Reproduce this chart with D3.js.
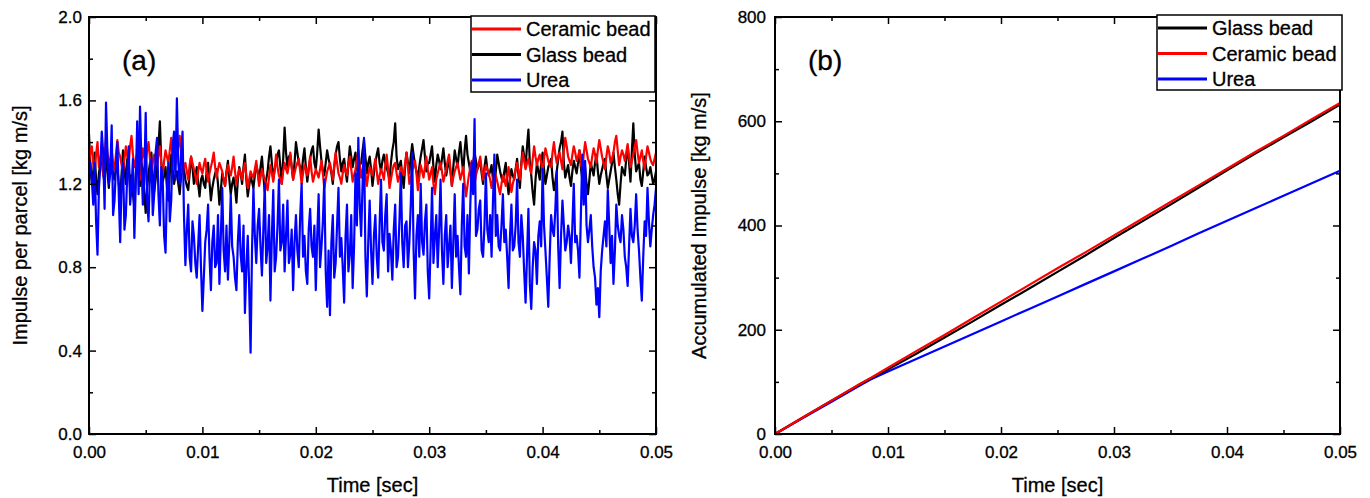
<!DOCTYPE html>
<html>
<head>
<meta charset="utf-8">
<script src="https://cdn.jsdelivr.net/npm/d3@7"></script>
<style>
  body { margin: 0; background: #fff; }
  svg { display: block; font-family: "Liberation Sans", Arial, sans-serif; }
  text { stroke: #000; stroke-width: 0.3px; }
</style>
</head>
<body>
<svg id="chart" width="1370" height="498"></svg>
<script>
// panel (a): impulse per parcel, sampled every 0.00025 s,
// plus a second set read halfway between those samples
const stepA = 0.00025
const ceramicA = [
  1.30, 1.38, 1.26, 1.40, 1.32, 1.24, 1.42, 1.30, 1.36, 1.27,
  1.41, 1.33, 1.25, 1.38, 1.30, 1.43, 1.28, 1.35, 1.22, 1.37,
  1.31, 1.40, 1.26, 1.34, 1.29, 1.38, 1.24, 1.36, 1.30, 1.42,
  1.27, 1.34, 1.43, 1.25, 1.30, 1.22, 1.33, 1.27, 1.20, 1.30,
  1.25, 1.32, 1.21, 1.28, 1.35, 1.23, 1.30, 1.26, 1.19, 1.29,
  1.24, 1.33, 1.20, 1.27, 1.22, 1.30, 1.18, 1.26, 1.23, 1.31,
  1.19, 1.27, 1.22, 1.17, 1.29, 1.21, 1.34, 1.24, 1.20, 1.30,
  1.25, 1.35, 1.22, 1.28, 1.32, 1.20, 1.29, 1.24, 1.33, 1.21,
  1.27, 1.23, 1.31, 1.18, 1.26, 1.30, 1.22, 1.35, 1.25, 1.20,
  1.29, 1.24, 1.33, 1.21, 1.27, 1.36, 1.23, 1.30, 1.19, 1.28,
  1.24, 1.32, 1.20, 1.27, 1.22, 1.34, 1.18, 1.26, 1.30, 1.21,
  1.28, 1.24, 1.35, 1.20, 1.26, 1.31, 1.17, 1.29, 1.23, 1.33,
  1.22, 1.28, 1.15, 1.25, 1.30, 1.21, 1.27, 1.34, 1.19, 1.26,
  1.30, 1.22, 1.28, 1.14, 1.24, 1.31, 1.20, 1.27, 1.33, 1.22,
  1.29, 1.25, 1.18, 1.26, 1.21, 1.15, 1.24, 1.19, 1.28, 1.16,
  1.23, 1.30, 1.22, 1.35, 1.27, 1.32, 1.25, 1.38, 1.29, 1.34,
  1.26, 1.37, 1.31, 1.28, 1.40, 1.30, 1.35, 1.27, 1.42, 1.33,
  1.29, 1.38, 1.31, 1.36, 1.26, 1.40, 1.32, 1.28, 1.37, 1.30,
  1.41, 1.33, 1.27, 1.38, 1.30, 1.35, 1.43, 1.29, 1.36, 1.31,
  1.39, 1.28, 1.34, 1.41, 1.30, 1.36, 1.27, 1.38, 1.32, 1.29, 1.35
]
const ceramicMid = [
  1.35, 1.30, 1.34, 1.28, 1.36, 1.33, 1.35, 1.31, 1.30, 1.34,
  1.35, 1.29, 1.32, 1.33, 1.38, 1.34, 1.31, 1.28, 1.30, 1.33,
  1.36, 1.32, 1.30, 1.31, 1.34, 1.30, 1.31, 1.33, 1.36, 1.34,
  1.30, 1.38, 1.35, 1.28, 1.26, 1.29, 1.30, 1.24, 1.26, 1.27,
  1.29, 1.26, 1.25, 1.31, 1.28, 1.27, 1.28, 1.22, 1.25, 1.26,
  1.28, 1.26, 1.24, 1.25, 1.27, 1.24, 1.22, 1.24, 1.27, 1.25,
  1.23, 1.24, 1.20, 1.23, 1.25, 1.27, 1.28, 1.22, 1.26, 1.27,
  1.29, 1.28, 1.25, 1.30, 1.26, 1.25, 1.27, 1.28, 1.26, 1.24,
  1.25, 1.27, 1.25, 1.22, 1.28, 1.26, 1.29, 1.30, 1.23, 1.25,
  1.26, 1.29, 1.27, 1.24, 1.31, 1.29, 1.27, 1.25, 1.24, 1.26,
  1.28, 1.26, 1.24, 1.25, 1.29, 1.27, 1.22, 1.29, 1.25, 1.24,
  1.26, 1.30, 1.28, 1.23, 1.29, 1.25, 1.23, 1.26, 1.28, 1.27,
  1.25, 1.20, 1.22, 1.28, 1.26, 1.24, 1.31, 1.27, 1.23, 1.28,
  1.26, 1.25, 1.20, 1.19, 1.28, 1.25, 1.24, 1.30, 1.27, 1.26,
  1.27, 1.22, 1.22, 1.24, 1.18, 1.20, 1.22, 1.24, 1.21, 1.20,
  1.27, 1.26, 1.29, 1.31, 1.30, 1.28, 1.32, 1.33, 1.32, 1.30,
  1.32, 1.34, 1.29, 1.35, 1.34, 1.33, 1.31, 1.36, 1.38, 1.31,
  1.34, 1.35, 1.33, 1.30, 1.34, 1.36, 1.30, 1.33, 1.34, 1.36,
  1.37, 1.30, 1.33, 1.35, 1.32, 1.40, 1.36, 1.33, 1.34, 1.35,
  1.33, 1.31, 1.38, 1.35, 1.33, 1.31, 1.33, 1.35, 1.30, 1.32
]
const glassA = [
  1.44, 1.20, 1.35, 1.15, 1.30, 1.25, 1.38, 1.18, 1.32, 1.22,
  1.28, 1.13, 1.36, 1.20, 1.30, 1.24, 1.09, 1.33, 1.19, 1.27,
  1.06, 1.25, 1.35, 1.16, 1.30, 1.50, 1.21, 1.28, 1.12, 1.34,
  1.20, 1.26, 1.15, 1.30, 1.22, 1.17, 1.33, 1.20, 1.28, 1.14,
  1.24, 1.18, 1.30, 1.12, 1.22, 1.27, 1.10, 1.25, 1.19, 1.31,
  1.15, 1.23, 1.11, 1.28, 1.20, 1.34, 1.14, 1.24, 1.18, 1.29,
  1.21, 1.33, 1.16, 1.26, 1.38, 1.22, 1.30, 1.36, 1.20, 1.47,
  1.28, 1.34, 1.22, 1.40, 1.30, 1.25, 1.37, 1.21, 1.32, 1.38,
  1.27, 1.46, 1.31, 1.24, 1.36, 1.29, 1.20, 1.34, 1.40, 1.26,
  1.32, 1.21, 1.38, 1.28, 1.35, 1.23, 1.30, 1.41, 1.25, 1.33,
  1.19, 1.30, 1.37, 1.26, 1.34, 1.28, 1.22, 1.36, 1.49, 1.27,
  1.31, 1.18, 1.35, 1.25, 1.39, 1.29, 1.22, 1.33, 1.41, 1.26,
  1.30, 1.38, 1.21, 1.34, 1.27, 1.37, 1.24, 1.32, 1.19, 1.36,
  1.28, 1.40, 1.25, 1.43, 1.30, 1.22, 1.35, 1.27, 1.31, 1.20,
  1.33, 1.24, 1.29, 1.18, 1.34, 1.26, 1.21, 1.30, 1.15, 1.27,
  1.22, 1.32, 1.18, 1.38, 1.28, 1.46, 1.24, 1.10, 1.30, 1.22,
  1.35, 1.20, 1.28, 1.32, 1.17, 1.26, 1.37, 1.45, 1.23, 1.29,
  1.19, 1.31, 1.25, 1.36, 1.22, 1.28, 1.15, 1.30, 1.24, 1.34,
  1.20, 1.27, 1.32, 1.18, 1.26, 1.35, 1.22, 1.10, 1.28, 1.24,
  1.38, 1.21, 1.49, 1.26, 1.30, 1.19, 1.33, 1.24, 1.28, 1.20, 1.26
]
const glassMid = [
  1.28, 1.26, 1.22, 1.25, 1.32, 1.20, 1.26, 1.30, 1.24, 1.28,
  1.20, 1.25, 1.27, 1.32, 1.18, 1.15, 1.24, 1.25, 1.30, 1.16,
  1.18, 1.30, 1.24, 1.22, 1.38, 1.30, 1.24, 1.18, 1.25, 1.27,
  1.24, 1.20, 1.24, 1.27, 1.19, 1.25, 1.28, 1.23, 1.20, 1.22,
  1.20, 1.26, 1.21, 1.18, 1.25, 1.20, 1.17, 1.22, 1.26, 1.22,
  1.20, 1.18, 1.22, 1.25, 1.28, 1.22, 1.19, 1.21, 1.24, 1.26,
  1.28, 1.24, 1.22, 1.33, 1.30, 1.27, 1.34, 1.28, 1.32, 1.35,
  1.33, 1.28, 1.30, 1.35, 1.28, 1.32, 1.28, 1.27, 1.36, 1.30,
  1.35, 1.38, 1.26, 1.30, 1.32, 1.25, 1.28, 1.38, 1.32, 1.30,
  1.26, 1.30, 1.33, 1.32, 1.28, 1.29, 1.36, 1.33, 1.30, 1.27,
  1.25, 1.34, 1.30, 1.31, 1.30, 1.25, 1.30, 1.40, 1.33, 1.29,
  1.24, 1.28, 1.30, 1.33, 1.34, 1.26, 1.28, 1.37, 1.33, 1.30,
  1.34, 1.28, 1.29, 1.31, 1.32, 1.30, 1.28, 1.26, 1.28, 1.32,
  1.35, 1.32, 1.36, 1.34, 1.26, 1.30, 1.31, 1.29, 1.25, 1.28,
  1.27, 1.26, 1.22, 1.26, 1.30, 1.23, 1.26, 1.21, 1.22, 1.24,
  1.27, 1.24, 1.30, 1.33, 1.38, 1.30, 1.16, 1.22, 1.26, 1.30,
  1.27, 1.24, 1.30, 1.23, 1.21, 1.32, 1.40, 1.30, 1.26, 1.23,
  1.26, 1.28, 1.30, 1.28, 1.24, 1.20, 1.22, 1.27, 1.30, 1.26,
  1.24, 1.30, 1.24, 1.22, 1.30, 1.28, 1.15, 1.20, 1.26, 1.32,
  1.30, 1.36, 1.34, 1.28, 1.22, 1.26, 1.28, 1.25, 1.24, 1.22
]
const ureaA = [
  1.25, 1.22, 1.30, 0.86, 1.28, 1.35, 1.59, 1.20, 1.48, 1.12,
  1.40, 0.92, 1.30, 1.05, 1.38, 1.18, 0.94, 1.50, 1.57, 1.10,
  1.54, 1.02, 1.32, 1.15, 1.42, 1.00, 1.22, 0.87, 1.30, 1.12,
  1.45, 1.61, 1.20, 1.45, 0.81, 1.10, 0.78, 0.95, 0.75, 1.05,
  0.59, 0.92, 1.10, 0.69, 1.00, 0.82, 0.72, 1.18, 0.78, 0.74,
  1.15, 0.85, 0.69, 1.05, 0.78, 0.58, 0.95, 0.39, 1.18, 0.82,
  1.08, 0.76, 1.20, 0.90, 0.64, 1.17, 0.85, 1.22, 0.92, 0.78,
  1.12, 0.86, 0.69, 1.05, 0.80, 1.20, 0.95, 0.72, 1.08, 0.85,
  0.69, 1.15, 0.90, 1.22, 0.61, 0.57, 1.05, 0.82, 1.18, 0.94,
  0.63, 1.10, 0.86, 0.70, 1.25, 1.42, 0.95, 1.42, 0.66, 1.12,
  0.72, 1.05, 0.75, 1.22, 0.88, 1.15, 0.96, 0.74, 1.10, 0.85,
  1.25, 0.80, 1.02, 0.92, 1.35, 0.65, 1.05, 1.20, 0.86, 1.10,
  0.65, 1.18, 0.95, 0.80, 1.22, 0.72, 1.05, 0.90, 0.70, 1.15,
  0.95, 0.67, 1.20, 0.85, 0.77, 1.30, 1.51, 0.98, 1.12, 0.85,
  1.25, 0.92, 0.85, 1.34, 1.05, 0.88, 1.15, 0.98, 0.70, 1.10,
  0.90, 1.22, 0.85, 0.95, 0.63, 1.08, 0.60, 0.92, 0.72, 1.02,
  1.27, 0.88, 0.61, 1.05, 0.95, 1.26, 0.70, 1.12, 0.88, 1.00,
  0.82, 1.20, 0.95, 0.75, 1.34, 1.31, 0.92, 1.05, 0.80, 0.62,
  0.56, 0.88, 1.02, 1.17, 0.82, 0.72, 1.10, 0.95, 1.05, 0.85,
  0.71, 1.08, 0.92, 1.15, 0.88, 0.64, 1.02, 1.18, 0.90, 1.05, 1.18
]
const ureaMid = [
  1.30, 1.10, 1.02, 1.18, 1.45, 1.08, 1.35, 1.25, 1.05, 1.28,
  1.15, 1.22, 0.98, 1.25, 1.10, 1.32, 1.20, 1.15, 1.30, 1.22,
  1.12, 1.25, 1.05, 1.35, 1.15, 1.28, 0.95, 1.18, 1.02, 1.38,
  1.22, 1.30, 1.35, 1.05, 0.98, 0.85, 1.02, 0.82, 0.90, 0.80,
  0.75, 0.98, 0.85, 0.92, 0.80, 1.05, 0.95, 0.88, 1.00, 0.92,
  0.90, 0.75, 0.92, 0.86, 1.00, 0.80, 0.70, 0.88, 0.95, 1.00,
  0.90, 0.98, 0.82, 1.05, 0.95, 0.78, 1.00, 0.88, 1.10, 0.95,
  0.82, 0.98, 0.92, 0.88, 1.05, 0.85, 0.78, 0.98, 0.90, 1.00,
  0.95, 0.80, 1.02, 0.78, 0.88, 0.92, 0.75, 1.00, 0.85, 0.80,
  0.95, 0.78, 1.05, 0.90, 1.00, 1.10, 1.20, 0.85, 0.92, 0.88,
  0.95, 0.85, 1.00, 0.92, 1.05, 0.78, 0.88, 0.98, 0.80, 1.02,
  0.92, 1.00, 0.80, 1.10, 0.88, 0.95, 0.85, 0.92, 1.02, 0.78,
  0.90, 0.82, 1.05, 0.98, 0.88, 0.95, 0.80, 1.00, 0.92, 0.85,
  0.80, 1.00, 0.90, 1.05, 1.10, 1.15, 0.95, 1.08, 0.88, 1.00,
  0.98, 1.05, 1.12, 0.95, 0.90, 1.00, 0.92, 0.85, 0.95, 0.88,
  1.00, 0.92, 1.05, 0.78, 0.85, 0.72, 0.80, 0.88, 0.95, 0.90,
  1.00, 0.75, 0.85, 0.98, 1.08, 0.90, 0.95, 1.00, 0.92, 0.95,
  1.00, 0.92, 0.88, 1.05, 1.10, 1.00, 0.98, 0.90, 0.75, 0.70,
  0.78, 0.95, 0.90, 1.00, 0.95, 0.88, 1.00, 0.92, 0.98, 0.80,
  0.90, 0.95, 1.00, 0.98, 0.75, 0.85, 0.95, 1.02, 0.98, 1.10
]

// panel (b): accumulated impulse
const timeB = [0, 0.0025, 0.005, 0.0075, 0.0085, 0.01, 0.0125, 0.015, 0.0175, 0.02, 0.0225,
  0.025, 0.0275, 0.03, 0.0325, 0.035, 0.0375, 0.04, 0.0425, 0.045, 0.0475, 0.05]
const glassB = [0, 32, 64, 95, 107, 124, 154, 185, 216, 248, 279, 311, 343, 376, 408, 440, 473, 506, 538, 569, 600, 632]
const ceramicB = [0, 32, 64, 96, 108, 127, 159, 190, 222, 254, 286, 318, 349, 381, 413, 445, 477, 509, 541, 572, 604, 635]
const ureaB = [0, 31, 62, 93, 105, 120, 144, 168, 192, 216, 240, 264, 288, 312, 336, 360, 385, 409, 433, 457, 481, 505]

const xTicks = [0, 0.01, 0.02, 0.03, 0.04, 0.05]
const xMinor = [0.005, 0.015, 0.025, 0.035, 0.045]
const yTicksA = [0, 0.4, 0.8, 1.2, 1.6, 2.0]
const yMinorA = [0.2, 0.6, 1.0, 1.4, 1.8]
const yTicksB = [0, 200, 400, 600, 800]
const yMinorB = [100, 300, 500, 700]

const legendA = [["Ceramic bead", "#ff0000"], ["Glass bead", "#000000"], ["Urea", "#0000ff"]]
const legendB = [["Glass bead", "#000000"], ["Ceramic bead", "#ff0000"], ["Urea", "#0000ff"]]

const svg = d3.select("#chart")

function panel(opt) {
  const g = svg.append("g")
  const x = d3.scaleLinear().domain([0, 0.05]).range([opt.left, opt.right])
  const y = d3.scaleLinear().domain(opt.yDomain).range([opt.bottom, opt.top])

  // data lines
  const line = d3.line().x(d => x(d[0])).y(d => y(d[1]))
  opt.series.forEach(s => {
    g.append("path")
      .datum(s.pts)
      .attr("fill", "none")
      .attr("stroke", s.color)
      .attr("stroke-width", opt.lw)
      .attr("stroke-linejoin", "round")
      .attr("d", line)
  })

  const style = a => {
    a.select(".domain").remove()
    a.selectAll("line").attr("stroke", "#000").attr("stroke-width", 1.5)
    a.selectAll("text").attr("font-size", 17).attr("fill", "#000")
  }

  g.append("g").attr("transform", `translate(0,${opt.bottom})`)
    .call(d3.axisBottom(x).tickValues(xTicks).tickSize(-7).tickPadding(12).tickFormat(d3.format(".2f")))
    .call(style)
  g.append("g").attr("transform", `translate(0,${opt.bottom})`)
    .call(d3.axisBottom(x).tickValues(xMinor).tickSize(-4).tickFormat(""))
    .call(style)
  g.append("g").attr("transform", `translate(0,${opt.top})`)
    .call(d3.axisTop(x).tickValues(xTicks).tickSize(-7).tickFormat(""))
    .call(style)
  g.append("g").attr("transform", `translate(0,${opt.top})`)
    .call(d3.axisTop(x).tickValues(xMinor).tickSize(-4).tickFormat(""))
    .call(style)

  g.append("g").attr("transform", `translate(${opt.left},0)`)
    .call(d3.axisLeft(y).tickValues(opt.yTicks).tickSize(-7).tickPadding(opt.yPad).tickFormat(opt.yFmt))
    .call(style)
  g.append("g").attr("transform", `translate(${opt.left},0)`)
    .call(d3.axisLeft(y).tickValues(opt.yMinor).tickSize(-4).tickFormat(""))
    .call(style)
  g.append("g").attr("transform", `translate(${opt.right},0)`)
    .call(d3.axisRight(y).tickValues(opt.yTicks).tickSize(-7).tickFormat(""))
    .call(style)
  g.append("g").attr("transform", `translate(${opt.right},0)`)
    .call(d3.axisRight(y).tickValues(opt.yMinor).tickSize(-4).tickFormat(""))
    .call(style)

  // frame
  g.append("rect")
    .attr("x", opt.left).attr("y", opt.top)
    .attr("width", opt.right - opt.left).attr("height", opt.bottom - opt.top)
    .attr("fill", "none").attr("stroke", "#000").attr("stroke-width", 2)

  // legend
  const lg = opt.legend
  g.append("rect")
    .attr("x", lg.x).attr("y", lg.y).attr("width", lg.w).attr("height", lg.h)
    .attr("fill", "#fff").attr("stroke", "#000").attr("stroke-width", 1.5)
  lg.items.forEach((it, i) => {
    const cy = lg.y + 13 + i * 25.5
    g.append("line")
      .attr("x1", lg.x + 1).attr("x2", lg.x + 50).attr("y1", cy).attr("y2", cy)
      .attr("stroke", it[1]).attr("stroke-width", 3)
    g.append("text")
      .attr("x", lg.x + 55).attr("y", cy + 7)
      .attr("font-size", 20).text(it[0])
  })

  g.append("text")
    .attr("x", opt.left + 33).attr("y", opt.top + 53)
    .attr("font-size", 28).text(opt.tag)

  g.append("text")
    .attr("x", (opt.left + opt.right) / 2).attr("y", 492)
    .attr("text-anchor", "middle").attr("font-size", 20)
    .text("Time [sec]")

  g.append("text")
    .attr("transform", `translate(${opt.ytX},${(opt.top + opt.bottom) / 2}) rotate(-90)`)
    .attr("text-anchor", "middle").attr("font-size", 20)
    .text(opt.yTitle)
}

// merge the on-step and half-step readings into one time-ordered series
const ptsA = (arr, mid) => {
  const pts = []
  arr.forEach((v, i) => {
    pts.push([i * stepA, v])
    if (i < mid.length) pts.push([(i + 0.5) * stepA, mid[i]])
  })
  return pts
}
const ptsB = arr => arr.map((v, i) => [timeB[i], v])

panel({
  left: 89, right: 656, top: 17, bottom: 434,
  yDomain: [0, 2], yTicks: yTicksA, yMinor: yMinorA, yPad: 7, yFmt: d3.format(".1f"),
  lw: 2.2,
  series: [
    { pts: ptsA(glassA, glassMid), color: "#000000" },
    { pts: ptsA(ceramicA, ceramicMid), color: "#ff0000" },
    { pts: ptsA(ureaA, ureaMid), color: "#0000ff" }
  ],
  legend: { x: 471, y: 16, w: 184, h: 76, items: legendA },
  tag: "(a)", ytX: 27, yTitle: "Impulse per parcel [kg m/s]"
})

panel({
  left: 775, right: 1340, top: 17, bottom: 434,
  yDomain: [0, 800], yTicks: yTicksB, yMinor: yMinorB, yPad: 9, yFmt: d3.format("d"),
  lw: 2.2,
  series: [
    { pts: ptsB(ureaB), color: "#0000ff" },
    { pts: ptsB(glassB), color: "#000000" },
    { pts: ptsB(ceramicB), color: "#ff0000" }
  ],
  legend: { x: 1157, y: 15, w: 185, h: 75, items: legendB },
  tag: "(b)", ytX: 706, yTitle: "Accumulated Impulse [kg m/s]"
})
</script>
</body>
</html>
